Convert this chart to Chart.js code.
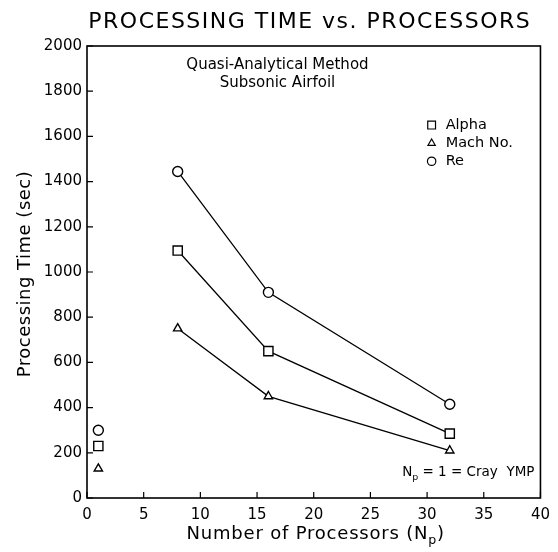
<!DOCTYPE html>
<html>
<head>
<meta charset="utf-8">
<script src="https://cdn.jsdelivr.net/npm/chart.js@4.4.0/dist/chart.umd.min.js"></script>
<style>
  html, body { margin: 0; padding: 0; background: #fff; }
</style>
</head>
<body>
<canvas id="chart" width="558" height="552"></canvas>
<script>
// values
const processors = [8, 16, 32]
const alphaTimes = [1095, 650, 285]
const machTimes = [750, 450, 210]
const reTimes = [1445, 910, 415]

// Np = 1 (Cray YMP) points, not connected
const crayProcessors = [1]
const crayAlpha = [230]
const crayMach = [130]
const crayRe = [300]

const xTicks = [0, 5, 10, 15, 20, 25, 30, 35, 40]
const yTicks = [0, 200, 400, 600, 800, 1000, 1200, 1400, 1600, 1800, 2000]

const legendItems = [
  { label: 'Alpha', style: 'rect' },
  { label: 'Mach No.', style: 'triangle' },
  { label: 'Re', style: 'circle' }
]

const FONT = '"DejaVu Sans", sans-serif'
const markerSize = { rect: 6.5, triangle: 4.8, circle: 5 }

function toPoints(xs, ys) {
  return xs.map((x, i) => ({ x, y: ys[i] }))
}

function series(data, style, showLine) {
  return {
    data,
    showLine,
    borderColor: '#000',
    borderWidth: 1.3,
    pointStyle: style,
    pointRadius: markerSize[style],
    pointBorderWidth: 1.4,
    pointBorderColor: '#000',
    pointBackgroundColor: '#fff'
  }
}

function textWithSub(ctx, parts, x, y, size, align, spacing) {
  // parts: [[text, isSub], ...]
  ctx.letterSpacing = (spacing || 0) + 'px'
  let total = 0
  const widths = parts.map(([t, sub]) => {
    ctx.font = (sub ? size * 0.7 : size) + 'px ' + FONT
    const w = ctx.measureText(t).width
    total += w
    return w
  })
  let cx = align === 'right' ? x - total : align === 'center' ? x - total / 2 : x
  parts.forEach(([t, sub], i) => {
    ctx.font = (sub ? size * 0.7 : size) + 'px ' + FONT
    ctx.textAlign = 'left'
    ctx.fillText(t, cx, sub ? y + size * 0.3 : y)
    cx += widths[i]
  })
  ctx.letterSpacing = '0px'
}

const decorations = {
  id: 'decorations',
  afterDraw(chart) {
    const { ctx, chartArea: a, scales } = chart
    ctx.save()
    ctx.strokeStyle = '#000'
    ctx.fillStyle = '#000'

    // frame
    ctx.lineWidth = 1.6
    ctx.strokeRect(a.left, a.top, a.right - a.left, a.bottom - a.top)

    // inward ticks
    ctx.lineWidth = 1.2
    ctx.beginPath()
    yTicks.forEach((v) => {
      const y = scales.y.getPixelForValue(v)
      ctx.moveTo(a.left, y)
      ctx.lineTo(a.left + 6, y)
    })
    xTicks.forEach((v) => {
      const x = scales.x.getPixelForValue(v)
      ctx.moveTo(x, a.bottom)
      ctx.lineTo(x, a.bottom - 6)
    })
    ctx.stroke()

    // title
    ctx.font = '22px ' + FONT
    ctx.letterSpacing = '1.5px'
    ctx.textAlign = 'center'
    ctx.textBaseline = 'middle'
    ctx.fillText('PROCESSING TIME vs. PROCESSORS', (a.left + a.right) / 2 - 4, 22)
    ctx.letterSpacing = '0.5px'

    // y title
    ctx.save()
    ctx.translate(25, (a.top + a.bottom) / 2 + 2)
    ctx.rotate(-Math.PI / 2)
    ctx.font = '18px ' + FONT
    ctx.textAlign = 'center'
    ctx.fillText('Processing Time (sec)', 0, 0)
    ctx.restore()
    ctx.letterSpacing = '0px'

    // x title
    ctx.textBaseline = 'alphabetic'
    textWithSub(ctx, [['Number of Processors (N', false], ['p', true], [')', false]],
      (a.left + a.right) / 2 + 2, 539, 18, 'center', 0.8)

    // method note
    ctx.font = '15px ' + FONT
    ctx.textAlign = 'center'
    ctx.textBaseline = 'middle'
    const nx = scales.x.getPixelForValue(16.8)
    ctx.fillText('Quasi-Analytical Method', nx, scales.y.getPixelForValue(1915))
    ctx.fillText('Subsonic Airfoil', nx, scales.y.getPixelForValue(1838))

    // legend
    const lx = scales.x.getPixelForValue(30.4)
    const legendY = [1650, 1570, 1490]
    const legendSize = { rect: 5.5, triangle: 4.2, circle: 4.2 }
    legendItems.forEach((item, i) => {
      const y = scales.y.getPixelForValue(legendY[i])
      ctx.fillStyle = '#fff'
      Chart.helpers.drawPoint(ctx, { pointStyle: item.style, radius: legendSize[item.style], borderWidth: 1.4 }, lx, y)
      ctx.fillStyle = '#000'
      ctx.font = '14.5px ' + FONT
      ctx.textAlign = 'left'
      ctx.fillText(item.label, lx + 14, y)
    })

    // Cray note
    ctx.textBaseline = 'alphabetic'
    textWithSub(ctx, [['N', false], ['p', true], [' = 1 = Cray  YMP', false]],
      a.right - 6, a.bottom - 22, 13.5, 'right', 0)

    ctx.restore()
  }
}

new Chart(document.getElementById('chart'), {
  type: 'scatter',
  data: {
    datasets: [
      series(toPoints(processors, alphaTimes), 'rect', true),
      series(toPoints(processors, machTimes), 'triangle', true),
      series(toPoints(processors, reTimes), 'circle', true),
      series(toPoints(crayProcessors, crayAlpha), 'rect', false),
      series(toPoints(crayProcessors, crayMach), 'triangle', false),
      series(toPoints(crayProcessors, crayRe), 'circle', false)
    ]
  },
  options: {
    responsive: false,
    animation: false,
    devicePixelRatio: 1,
    layout: { padding: { top: 46, right: 16, left: 0, bottom: 0 } },
    plugins: {
      legend: { display: false },
      title: { display: false },
      tooltip: { enabled: false }
    },
    scales: {
      x: {
        type: 'linear',
        min: 0,
        max: 40,
        afterFit: (s) => { s.height = 54 },
        afterBuildTicks: (s) => { s.ticks = xTicks.map((v) => ({ value: v })) },
        grid: { drawOnChartArea: false, drawTicks: false },
        border: { display: false },
        ticks: { color: '#000', padding: 8, font: { family: FONT, size: 15 }, callback: (v) => String(v) }
      },
      y: {
        type: 'linear',
        min: 0,
        max: 2000,
        afterFit: (s) => { s.width = 87 },
        afterBuildTicks: (s) => { s.ticks = yTicks.map((v) => ({ value: v })) },
        grid: { drawOnChartArea: false, drawTicks: false },
        border: { display: false },
        ticks: { color: '#000', padding: 5, font: { family: FONT, size: 15 }, callback: (v) => String(v) }
      }
    }
  },
  plugins: [decorations]
})
</script>
</body>
</html>
